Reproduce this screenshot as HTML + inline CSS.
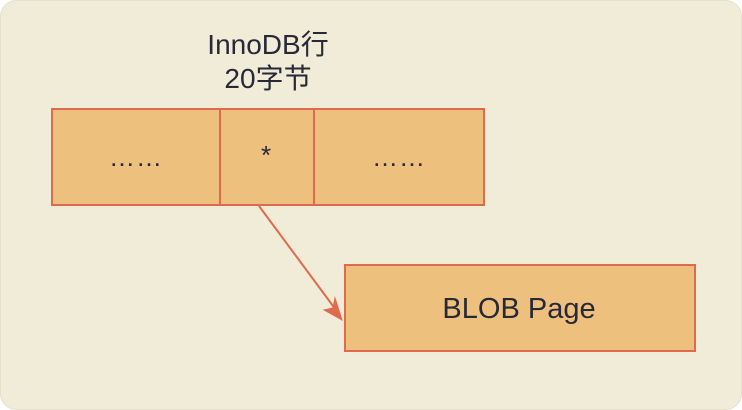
<!DOCTYPE html>
<html><head><meta charset="utf-8">
<style>
html,body{margin:0;padding:0;background:#fff;}
svg{display:block;}
text{font-family:"Liberation Sans","Noto Sans CJK SC",sans-serif;fill:#272838;}
</style></head>
<body>
<svg width="742" height="410" viewBox="0 0 742 410">
  <rect x="0.5" y="0.5" width="741" height="409" rx="16" fill="#f0ecd7" stroke="#e4e0cc"/>
  <text x="268" y="54" font-size="28" text-anchor="middle">InnoDB行</text>
  <text x="268" y="88" font-size="28" text-anchor="middle">20字节</text>
  <g>
    <rect x="52" y="109" width="168" height="96" fill="#eec07d" stroke="#df6a4d" stroke-width="2"/>
    <rect x="220" y="109" width="94" height="96" fill="#eec07d" stroke="#df6a4d" stroke-width="2"/>
    <rect x="314" y="109" width="170" height="96" fill="#eec07d" stroke="#df6a4d" stroke-width="2"/>
    <text x="136" y="166" font-size="26" letter-spacing="1" text-anchor="middle">……</text>
    <text x="266" y="164" font-size="26" text-anchor="middle">*</text>
    <text x="399" y="166" font-size="26" letter-spacing="1" text-anchor="middle">……</text>
  </g>
  <g>
    <line x1="259" y1="206" x2="336" y2="310" stroke="#df6a4d" stroke-width="2"/>
    <path d="M342,320 L324,310 L333,308 L335,298 Z" fill="#df6a4d" stroke="#df6a4d" stroke-width="1"/>
  </g>
  <rect x="345" y="265" width="350" height="86" fill="#eec07d" stroke="#df6a4d" stroke-width="2"/>
  <text x="519" y="318" font-size="29" text-anchor="middle">BLOB Page</text>
</svg>
</body></html>
